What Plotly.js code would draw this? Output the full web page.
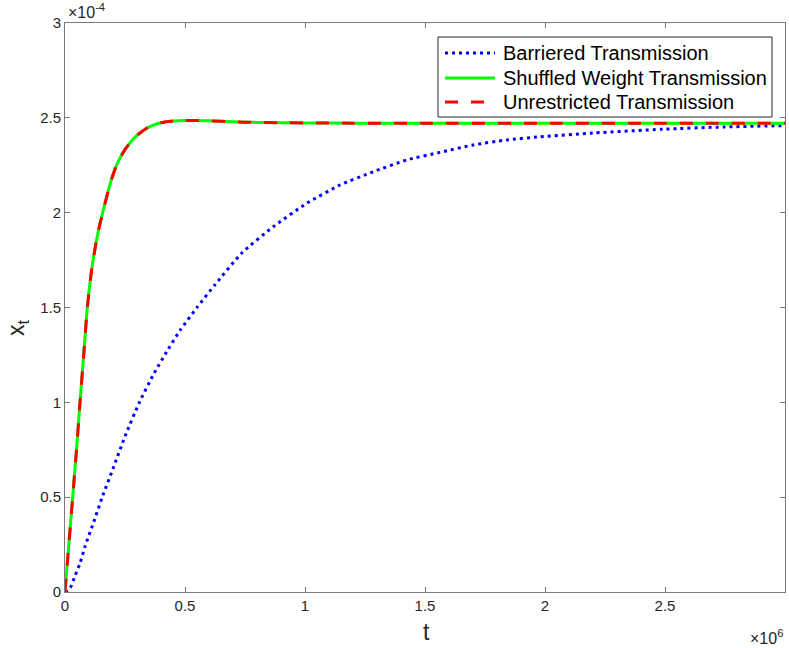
<!DOCTYPE html>
<html>
<head>
<meta charset="utf-8">
<script src="https://cdn.plot.ly/plotly-3.0.1.min.js"></script>
<style>html,body{margin:0;padding:0;background:#fff;}#chart{width:789px;height:648px;}</style>
</head>
<body>
<div id="chart"></div>
<script>
// t in units of 1e6, x_t in units of 1e-4
const seriesNames = ["Barriered Transmission", "Shuffled Weight Transmission", "Unrestricted Transmission"];

const tBarriered = [0, 0.021, 0.04, 0.0625, 0.083, 0.12, 0.155, 0.2, 0.25, 0.31, 0.37, 0.43, 0.48, 0.55, 0.625, 0.736, 0.868, 1.007, 1.146, 1.285, 1.424, 1.5625, 1.701, 1.84, 1.979, 2.2, 2.49, 2.75, 3.0];
const xBarriered = [0, 0.02, 0.08, 0.151, 0.239, 0.37, 0.50, 0.65, 0.82, 1.00, 1.15, 1.28, 1.38, 1.50, 1.62, 1.786, 1.926, 2.049, 2.146, 2.216, 2.278, 2.318, 2.357, 2.383, 2.400, 2.42, 2.44, 2.452, 2.459];

const tShuffled = [0, 0.016, 0.032, 0.048, 0.0625, 0.078, 0.093, 0.11, 0.125, 0.14, 0.157, 0.175, 0.19, 0.21, 0.23, 0.257, 0.285, 0.3125, 0.34, 0.368, 0.40, 0.45, 0.50, 0.55, 0.60, 0.70, 0.80, 0.90, 1.0, 1.2, 1.5, 2.0, 2.5, 3.0];
const xShuffled = [0, 0.25, 0.50, 0.75, 1.00, 1.25, 1.50, 1.69, 1.81, 1.91, 2.00, 2.09, 2.16, 2.235, 2.29, 2.345, 2.39, 2.42, 2.445, 2.462, 2.474, 2.483, 2.486, 2.486, 2.484, 2.479, 2.476, 2.474, 2.473, 2.472, 2.472, 2.472, 2.472, 2.472];

const tUnrestricted = tShuffled.slice();
const xUnrestricted = xShuffled.slice();

const xTickVals = [0, 0.5, 1, 1.5, 2, 2.5];
const xTickText = ["0", "0.5", "1", "1.5", "2", "2.5"];
const yTickVals = [0, 0.5, 1, 1.5, 2, 2.5, 3];
const yTickText = ["0", "0.5", "1", "1.5", "2", "2.5", "3"];

const seriesColors = ["#0000ff", "#00ff00", "#ff0000"];
const seriesDash = ["3px,4px", "solid", "13px,13px"];

const axisColor = "#7a7a7a";
const textColor = "#262626";
const fontFam = "Liberation Sans, Arial, Helvetica, sans-serif";

const W = 789, H = 648;
const M = {l: 65, r: 4, t: 23, b: 56};
const PW = W - M.l - M.r, PH = H - M.t - M.b;
const px = v => (v - M.l) / PW;       // pixel x -> paper x
const py = v => (H - M.b - v) / PH;   // pixel y -> paper y

const traces = [
  {x: tBarriered, y: xBarriered},
  {x: tShuffled, y: xShuffled},
  {x: tUnrestricted, y: xUnrestricted}
].map((d, i) => ({
  x: d.x, y: d.y, name: seriesNames[i], mode: "lines", showlegend: false,
  line: {color: seriesColors[i], width: 3, dash: seriesDash[i], shape: "spline", smoothing: 0.6}
}));

// legend box drawn as paper shapes + annotations (MATLAB-style)
const legBox = {x0: 438, x1: 772, y0: 37, y1: 117};
const legRows = [53, 78, 102];
const shapes = [{type: "rect", xref: "paper", yref: "paper",
  x0: px(legBox.x0), x1: px(legBox.x1), y0: py(legBox.y1), y1: py(legBox.y0),
  line: {color: textColor, width: 1}, fillcolor: "#ffffff", layer: "above"}];
const annotations = [];
seriesNames.forEach((nm, i) => {
  shapes.push({type: "line", xref: "paper", yref: "paper",
    x0: px(445), x1: px(495), y0: py(legRows[i]), y1: py(legRows[i]),
    line: {color: seriesColors[i], width: 3, dash: seriesDash[i]}, layer: "above"});
  annotations.push({xref: "paper", yref: "paper", x: px(501), y: py(legRows[i]),
    xanchor: "left", yanchor: "middle", text: nm, showarrow: false,
    font: {family: fontFam, size: 20, color: "#000"}});
});

annotations.push(
  {xref: "paper", yref: "paper", x: 0, y: 1, xanchor: "left", yanchor: "bottom", xshift: 1,
   text: "×10<sup>-4</sup>", showarrow: false, font: {family: fontFam, size: 16, color: textColor}},
  {xref: "paper", yref: "paper", x: 1, y: 0, xanchor: "right", yanchor: "top", yshift: -33,
   text: "×10<sup>6</sup>", showarrow: false, font: {family: fontFam, size: 16, color: textColor}},
  {xref: "paper", yref: "paper", x: px(426), y: py(632), xanchor: "center", yanchor: "middle",
   text: "t", showarrow: false, font: {family: fontFam, size: 23, color: textColor}},
  {xref: "paper", yref: "paper", x: px(17), y: py(328), xanchor: "center", yanchor: "middle",
   textangle: -90, text: "x<sub>t</sub>", showarrow: false, font: {family: fontFam, size: 23, color: textColor}}
);

const axisCommon = {
  showline: true, linecolor: axisColor, linewidth: 1, mirror: "ticks",
  ticks: "inside", ticklen: 5, tickcolor: axisColor, tickwidth: 1,
  showgrid: false, zeroline: false,
  tickfont: {family: fontFam, size: 15, color: textColor}
};

const layout = {
  width: W, height: H,
  margin: M,
  paper_bgcolor: "#fff", plot_bgcolor: "#fff",
  showlegend: false,
  xaxis: Object.assign({}, axisCommon, {range: [0, 3], tickvals: xTickVals, ticktext: xTickText}),
  yaxis: Object.assign({}, axisCommon, {range: [0, 3], tickvals: yTickVals, ticktext: yTickText}),
  shapes: shapes,
  annotations: annotations
};

Plotly.newPlot("chart", traces, layout, {displayModeBar: false, staticPlot: true});
</script>
</body>
</html>
